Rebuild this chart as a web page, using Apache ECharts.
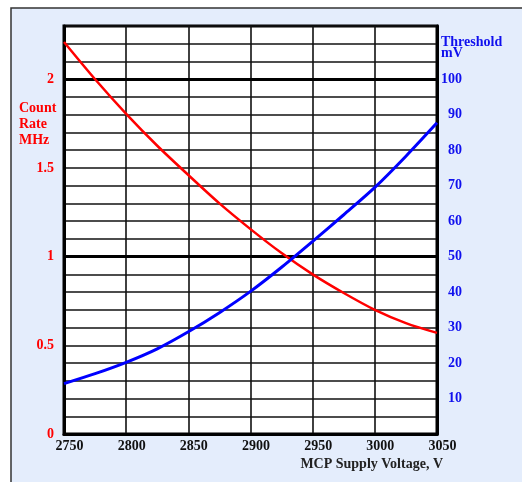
<!DOCTYPE html>
<html>
<head>
<meta charset="utf-8">
<script src="https://cdn.jsdelivr.net/npm/echarts@6/dist/echarts.min.js"></script>
<style>
  html, body { margin: 0; padding: 0; background: #fff; }
  #chart { width: 522px; height: 482px; }
</style>
</head>
<body>
<div id="chart"></div>
<script>
// MCP supply voltage (V)
const voltage = [2750, 2775, 2800, 2825, 2850, 2875, 2900, 2925, 2950, 2975, 3000, 3025, 3050];
// Count rate (MHz), left axis
const countRate = [2.21, 2.0, 1.805, 1.625, 1.46, 1.30, 1.155, 1.02, 0.90, 0.795, 0.70, 0.625, 0.57];
// Discriminator threshold (mV), right axis
const threshold = [14.2, 17.0, 20.2, 24.0, 28.8, 34.2, 40.2, 47.0, 54.3, 61.8, 69.5, 78.3, 87.7];

const xTicks = [2750, 2800, 2850, 2900, 2950, 3000, 3050];
const rateLabels = [0, 0.5, 1, 1.5, 2];
const thresholdLabels = [10, 20, 30, 40, 50, 60, 70, 80, 90, 100];

const serif = '"Liberation Serif", "DejaVu Serif", serif';

const chart = echarts.init(document.getElementById('chart'), null, { renderer: 'canvas' });

const near = (v, list) => list.some(t => Math.abs(v - t) < 1e-6);

chart.setOption({
  animation: false,
  backgroundColor: '#fff',
  graphic: [
    {
      type: 'rect', z: -100,
      shape: { x: 11, y: 8, width: 700, height: 700 },
      style: { fill: '#e4edfc', stroke: '#333', lineWidth: 1.5 }
    },
    {
      type: 'text', left: 19, top: 100, z: 10,
      style: {
        text: 'Count\nRate\nMHz', fill: '#ff0000',
        font: 'bold 14px ' + serif, lineHeight: 16
      }
    },
    {
      type: 'text', left: 441, top: 35, z: 10,
      style: {
        text: 'Threshold\nmV', fill: '#1010ee',
        font: 'bold 14px ' + serif, lineHeight: 11
      }
    },
    {
      type: 'text', right: 79, top: 457, z: 10,
      style: {
        text: 'MCP Supply Voltage, V', fill: '#222',
        font: 'bold 14px ' + serif
      }
    }
  ],
  grid: {
    left: 64, right: 85, top: 26, bottom: 48,
    show: true, backgroundColor: '#fff',
    borderColor: '#000', borderWidth: 3
  },
  xAxis: {
    type: 'value', min: 2750, max: 3050, interval: 50,
    axisLine: { show: true, lineStyle: { color: '#000', width: 3 } },
    axisTick: { show: false },
    splitLine: { show: true, lineStyle: { color: '#111', width: 1.6 } },
    axisLabel: {
      margin: 5, color: '#111', fontFamily: serif, fontWeight: 'bold', fontSize: 14,
      padding: [0, 0, 0, 11],
      formatter: v => near(v, xTicks) ? String(v) : ''
    }
  },
  yAxis: [
    {
      type: 'value', min: 0, max: 2.3, interval: 0.1,
      axisLine: { show: true, lineStyle: { color: '#000', width: 3 } },
      axisTick: { show: false },
      splitLine: { show: true, lineStyle: { color: '#111', width: 1.6 } },
      axisLabel: {
        margin: 10, color: '#ff0000', fontFamily: serif, fontWeight: 'bold', fontSize: 14,
        formatter: v => near(v, rateLabels) ? String(Math.round(v * 10) / 10) : ''
      }
    },
    {
      type: 'value', min: 0, max: 115, interval: 5, position: 'right',
      axisLine: { show: true, lineStyle: { color: '#000', width: 3 } },
      axisTick: { show: false },
      splitLine: { show: false },
      axisLabel: {
        margin: 25, align: 'right', color: '#1010ee', fontFamily: serif, fontWeight: 'bold', fontSize: 14,
        formatter: v => near(v, thresholdLabels) ? String(v) : ''
      }
    }
  ],
  series: [
    {
      name: 'Count Rate', type: 'line', yAxisIndex: 0, smooth: 0.3,
      symbol: 'none', z: 5,
      data: voltage.map((v, i) => [v, countRate[i]]),
      lineStyle: { color: '#ff0000', width: 2.5 },
      markLine: {
        silent: true, symbol: 'none', label: { show: false }, z: 3,
        lineStyle: { color: '#000', width: 3, type: 'solid' },
        data: [{ yAxis: 1 }, { yAxis: 2 }]
      }
    },
    {
      name: 'Threshold', type: 'line', yAxisIndex: 1, smooth: 0.3,
      symbol: 'none', z: 6,
      data: voltage.map((v, i) => [v, threshold[i]]),
      lineStyle: { color: '#0000ff', width: 3 }
    }
  ]
});
</script>
</body>
</html>
